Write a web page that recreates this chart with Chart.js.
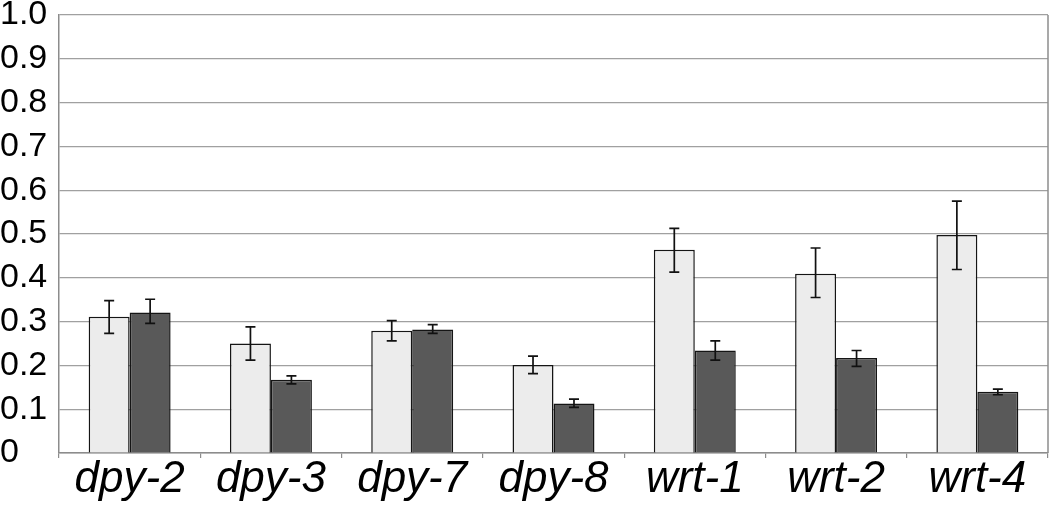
<!DOCTYPE html>
<html>
<head>
<meta charset="utf-8">
<script src="https://cdn.jsdelivr.net/npm/chart.js@4/dist/chart.umd.min.js"></script>
<style>
    html, body { margin: 0; padding: 0; background: #fff; }
    canvas { display: block; }
</style>
</head>
<body>
<canvas id="chart" width="1050" height="506"></canvas>
<script>
"use strict";
const genes = ['dpy-2', 'dpy-3', 'dpy-7', 'dpy-8', 'wrt-1', 'wrt-2', 'wrt-4'];
const yTicks = [0, 0.1, 0.2, 0.3, 0.4, 0.5, 0.6, 0.7, 0.8, 0.9, 1.0];

// light bars
const lightValues = [0.311, 0.250, 0.279, 0.201, 0.464, 0.409, 0.498];
const lightUpper = [0.348, 0.288, 0.302, 0.221, 0.513, 0.468, 0.575];
const lightLower = [0.273, 0.212, 0.256, 0.181, 0.413, 0.355, 0.419];

// dark bars
const darkValues = [0.321, 0.167, 0.282, 0.113, 0.234, 0.217, 0.140];
const darkUpper = [0.351, 0.176, 0.293, 0.123, 0.256, 0.234, 0.146];
const darkLower = [0.296, 0.158, 0.273, 0.104, 0.212, 0.198, 0.133];

const errorBars = {
    id: 'errorBars',
    afterDatasetsDraw(chart) {
        const ctx = chart.ctx;
        const yScale = chart.scales.y;
        const bounds = [[lightUpper, lightLower], [darkUpper, darkLower]];
        ctx.save();
        ctx.strokeStyle = '#111';
        ctx.lineWidth = 1.7;
        bounds.forEach((pair, di) => {
            const meta = chart.getDatasetMeta(di);
            meta.data.forEach((bar, i) => {
                const yHi = yScale.getPixelForValue(pair[0][i]);
                const yLo = yScale.getPixelForValue(pair[1][i]);
                const x = bar.x;
                ctx.beginPath();
                ctx.moveTo(x, yHi);
                ctx.lineTo(x, yLo);
                ctx.moveTo(x - 5, yHi);
                ctx.lineTo(x + 5, yHi);
                ctx.moveTo(x - 5, yLo);
                ctx.lineTo(x + 5, yLo);
                ctx.stroke();
            });
        });
        ctx.restore();
    }
};

const rightBorder = {
    id: 'rightBorder',
    afterDraw(chart) {
        const ctx = chart.ctx;
        const area = chart.chartArea;
        ctx.save();
        ctx.strokeStyle = '#8c8c8c';
        ctx.lineWidth = 1.5;
        ctx.beginPath();
        ctx.moveTo(area.right, area.top);
        ctx.lineTo(area.right, area.bottom);
        ctx.stroke();
        ctx.restore();
    }
};

new Chart(document.getElementById('chart').getContext('2d'), {
    type: 'bar',
    data: {
        labels: genes,
        datasets: [{
            data: lightValues,
            backgroundColor: '#ececec',
            borderColor: '#151515',
            borderWidth: 1.5,
            categoryPercentage: 0.58,
            barPercentage: 1.0
        }, {
            data: darkValues,
            backgroundColor: '#595959',
            borderColor: '#151515',
            borderWidth: 1.5,
            categoryPercentage: 0.58,
            barPercentage: 1.0
        }]
    },
    options: {
        responsive: false,
        animation: false,
        devicePixelRatio: 1,
        layout: { padding: { top: 15, right: 2, left: 0, bottom: 0 } },
        plugins: { legend: { display: false }, tooltip: { enabled: false } },
        scales: {
            x: {
                grid: {
                    display: true,
                    offset: true,
                    drawOnChartArea: false,
                    drawTicks: true,
                    tickLength: 5,
                    color: '#8c8c8c',
                    lineWidth: 1.2
                },
                border: { display: true, color: '#8c8c8c', width: 1.5 },
                ticks: {
                    color: '#000',
                    padding: 0,
                    maxRotation: 0,
                    autoSkip: false,
                    font: { family: 'Liberation Sans, Arial, sans-serif', size: 44, style: 'italic', lineHeight: 1 }
                },
                afterFit(scale) { scale.height = 53; }
            },
            y: {
                min: 0,
                max: 1,
                afterBuildTicks(scale) { scale.ticks = yTicks.map(v => ({ value: v })); },
                grid: { color: '#a0a0a0', lineWidth: 1.2, drawTicks: false, tickLength: 0 },
                border: { display: true, color: '#8c8c8c', width: 1.5 },
                ticks: {
                    color: '#000',
                    crossAlign: 'far',
                    padding: 0,
                    font: { family: 'Liberation Sans, Arial, sans-serif', size: 34, lineHeight: 0.85 },
                    callback: function (value) {
                        if (value === 0) return '0';
                        return (Math.round(value * 10) / 10).toFixed(1);
                    }
                },
                afterFit(scale) { scale.width = 59; }
            }
        }
    },
    plugins: [errorBars, rightBorder]
});
</script>
</body>
</html>
